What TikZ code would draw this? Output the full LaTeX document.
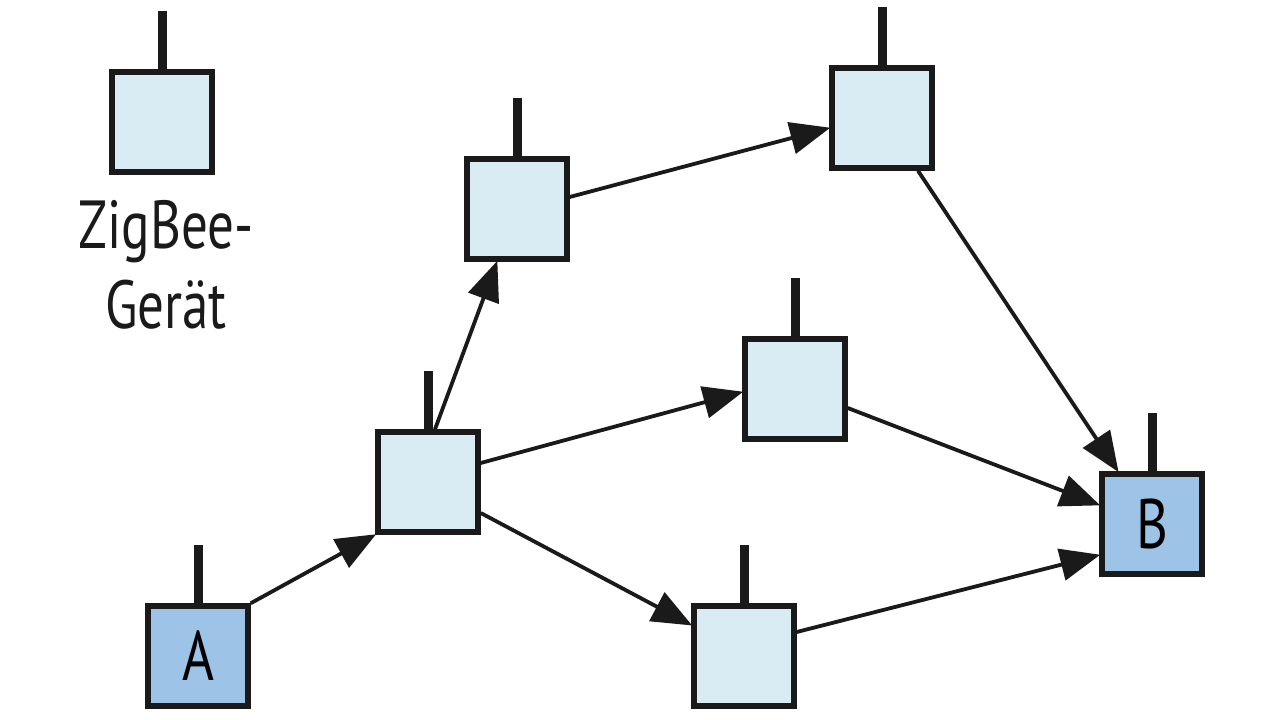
\documentclass[tikz,border=0pt]{standalone}
\usepackage{fontspec}
\setmainfont{PT Sans}[FakeStretch=0.78]
\usetikzlibrary{arrows.meta,calc}
\definecolor{lightbox}{HTML}{D9EBF3}
\definecolor{darkbox}{HTML}{9DC3E6}
\definecolor{ink}{HTML}{1A1A1A}
\tikzset{
  dev/.style={draw=ink, line width=5.5pt, fill=lightbox, minimum size=100pt, inner sep=0pt, font=\fontsize{70}{80}\selectfont},
  devend/.style={dev, fill=darkbox},
  conn/.style={draw=ink, line width=3.8pt, -{Triangle[length=40pt,width=32pt]}, shorten >=-1pt},
  antenna/.style={draw=ink, line width=9pt}
}
\begin{document}
\begin{tikzpicture}[x=1pt,y=1pt]
\useasboundingbox (0,0) rectangle (1280,720);
% nodes
\node[dev] (L) at (162,598) {};
\node[devend] (A) at (198,64) {A};
\node[dev] (N1) at (428,238) {};
\node[dev] (N2) at (517,511) {};
\node[dev] (N3) at (882,602) {};
\node[dev] (N4) at (795,331) {};
\node[dev] (N5) at (744,64) {};
\node[devend] (B) at (1152,196) {B};
% antennas
\foreach \n in {L,A,N1,N2,N3,N4,N5,B}
  \draw[antenna] (\n.north) -- ++(0,58);
% legend text
\node[align=center, font=\fontsize{68}{80}\selectfont, text=ink] (lbl) at (166,455) {ZigBee-\\Gerät};
% connectors
\draw[conn] (A.north east) -- (N1.south west);
\draw[conn] ($(N1.north)+(7,0)$) -- ($(N2.south)+(-20,0)$);
\draw[conn] ($(N1.east)+(0,19)$) -- ($(N4.west)+(0,-3)$);
\draw[conn] ($(N1.east)+(0,-31)$) -- ($(N5.west)+(0,31)$);
\draw[conn] ($(N2.east)+(0,12)$) -- ($(N3.west)+(0,-10)$);
\draw[conn] ($(N3.south)+(36,0)$) -- ($(B.north)+(-34,0)$);
\draw[conn] ($(N4.east)+(0,-19)$) -- ($(B.west)+(0,19)$);
\draw[conn] ($(N5.east)+(0,24)$) -- ($(B.west)+(0,-31)$);
\end{tikzpicture}
\end{document}
